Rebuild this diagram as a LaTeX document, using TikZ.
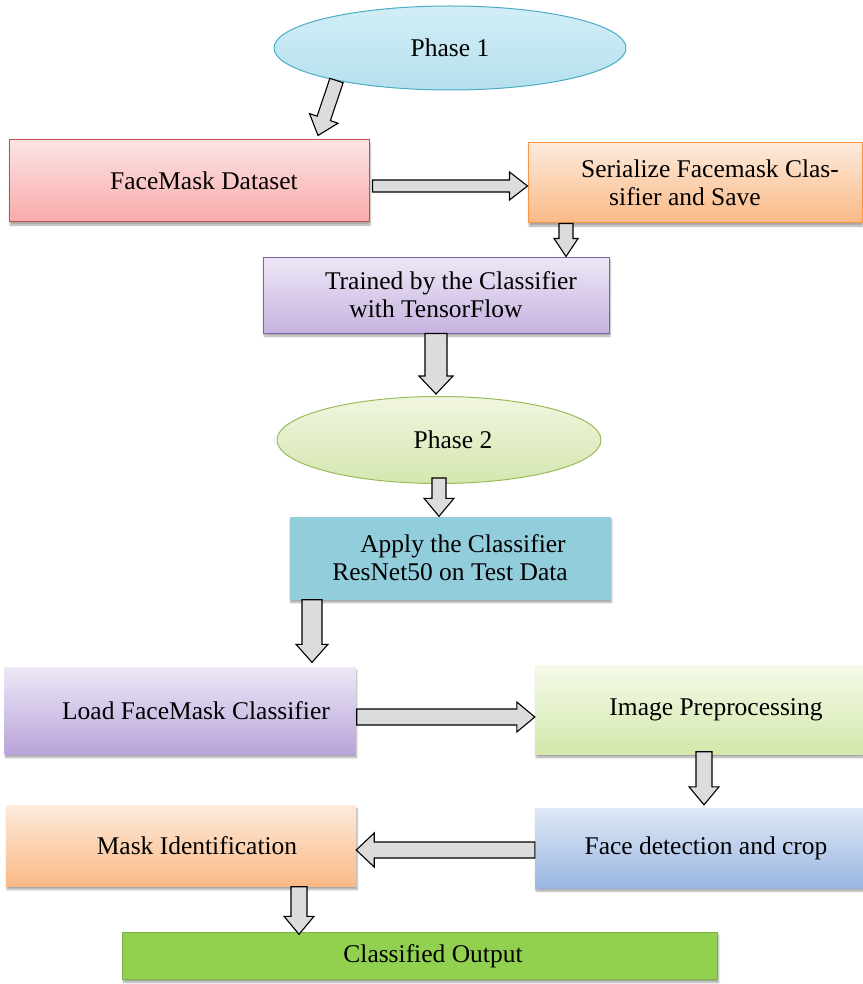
\documentclass[tikz,border=0pt]{standalone}
\usepackage{fontspec}
\setmainfont{Liberation Serif}
\usetikzlibrary{positioning, calc, shapes.geometric, shadows.blur}

\definecolor{ellblue}{HTML}{4BACC6}
\definecolor{ellbluetop}{HTML}{D3EEF7}
\definecolor{ellbluebot}{HTML}{B5E0EE}
\definecolor{ellgreen}{HTML}{9BBB59}
\definecolor{ellgreentop}{HTML}{F0F6E0}
\definecolor{ellgreenbot}{HTML}{D5E6B0}
\definecolor{redline}{HTML}{C0504D}
\definecolor{pinktop}{HTML}{FDE4E4}
\definecolor{pinkbot}{HTML}{F8AAAA}
\definecolor{orangeline}{HTML}{F79646}
\definecolor{peachtop}{HTML}{FDEADB}
\definecolor{peachbot}{HTML}{FAB985}
\definecolor{purpleline}{HTML}{8064A2}
\definecolor{lilactop}{HTML}{EEE7F6}
\definecolor{lilacbot}{HTML}{C6B3E0}
\definecolor{lilacdeep}{HTML}{B8A4DA}
\definecolor{limetop}{HTML}{F4F9E8}
\definecolor{limebot}{HTML}{D3E8AC}
\definecolor{skytop}{HTML}{DFE8F5}
\definecolor{skybot}{HTML}{9AB6E2}
\definecolor{tealfill}{HTML}{92CDDC}
\definecolor{limefill}{HTML}{92D050}
\definecolor{arrowgray}{HTML}{DCDCDC}

\tikzset{
  box/.style={rectangle, align=center, font=\fontsize{25.5}{28}\selectfont,
    blur shadow={shadow xshift=1pt, shadow yshift=-3pt, shadow opacity=35, shadow blur steps=6}},
  phase/.style={ellipse, align=center, font=\fontsize{25.5}{28}\selectfont},
  blockarrow/.style 2 args={draw=black, line width=1.1pt, fill=arrowgray,
    to path={
      ($(\tikztostart)!#1!90:(\tikztotarget)$)
      -- ($($(\tikztotarget)!18pt!(\tikztostart)$)!#1!90:(\tikztotarget)$)
      -- ($($(\tikztotarget)!18pt!(\tikztostart)$)!#2!90:(\tikztotarget)$)
      -- (\tikztotarget)
      -- ($($(\tikztotarget)!18pt!(\tikztostart)$)!#2!-90:(\tikztotarget)$)
      -- ($($(\tikztotarget)!18pt!(\tikztostart)$)!#1!-90:(\tikztotarget)$)
      -- ($(\tikztostart)!#1!-90:(\tikztotarget)$)
      -- cycle}}
}

\begin{document}
\begin{tikzpicture}[x=1pt, y=-1pt]
  \useasboundingbox (0,0) rectangle (862,984);

  % phase one
  \node[phase, draw=ellblue, line width=1pt, top color=ellbluetop, bottom color=ellbluebot,
    minimum width=352pt, minimum height=84pt] (ph1) at (450,48) {Phase 1};
  \node[box, draw=redline, line width=1pt, top color=pinktop, bottom color=pinkbot,
    minimum width=360pt, minimum height=82pt] (ds) at (189,181) {\hspace*{30pt}FaceMask Dataset};
  \node[box, draw=orangeline, line width=1pt, top color=peachtop, bottom color=peachbot,
    minimum width=334pt, minimum height=80pt] (ser) at (695,183)
    {\hspace*{30pt}Serialize Facemask Clas-\\\hspace*{-20pt}sifier and Save};
  \node[box, draw=purpleline, line width=1pt, top color=lilactop, bottom color=lilacbot,
    minimum width=346pt, minimum height=76pt] (tr) at (436,295)
    {\hspace*{30pt}Trained by the Classifier\\with TensorFlow};

  % phase two
  \node[phase, draw=ellgreen, line width=1pt, top color=ellgreentop, bottom color=ellgreenbot,
    minimum width=324pt, minimum height=87pt] (ph2) at (439,440) {\hspace*{28pt}Phase 2};
  \node[box, fill=tealfill, minimum width=321pt, minimum height=83pt] (ap) at (450,558)
    {\hspace*{26pt}Apply the Classifier\\ResNet50 on Test Data};
  \node[box, top color=lilactop, bottom color=lilacdeep,
    minimum width=351pt, minimum height=87pt] (ld) at (180,711) {\hspace*{32pt}Load FaceMask Classifier};
  \node[box, top color=limetop, bottom color=limebot,
    minimum width=328pt, minimum height=89pt] (ip) at (699,710) {\hspace*{34pt}Image Preprocessing};
  \node[box, top color=skytop, bottom color=skybot,
    minimum width=328pt, minimum height=80pt] (fd) at (699,848) {\hspace*{14pt}Face detection and crop};
  \node[box, top color=peachtop, bottom color=peachbot,
    minimum width=350pt, minimum height=81pt] (mi) at (181,846) {\hspace*{32pt}Mask Identification};
  \node[box, fill=limefill, draw=limefill!85!black, minimum width=595pt, minimum height=47pt] (co)
    at (420,956) {\hspace*{26pt}Classified Output};

  % arrows
  \draw[blockarrow={7pt}{15pt}] (ph1.196) to ([xshift=129pt,yshift=4pt]ds.north);
  \draw[blockarrow={6pt}{14pt}] ([xshift=3pt,yshift=-5pt]ds.east) to ([yshift=-3pt]ser.west);
  \draw[blockarrow={7pt}{12pt}] ([xshift=-129pt]ser.south) to ([xshift=-129pt]ser.south |- tr.north);
  \draw[blockarrow={11pt}{17pt}] (tr.south) to ([yshift=2pt]tr.south |- ph2.north);
  \draw[blockarrow={7pt}{15pt}] ([yshift=6pt]ph2.south) to (ph2.south |- ap.north);
  \draw[blockarrow={10pt}{16pt}] ([xshift=-138pt]ap.south) to ([xshift=-138pt,yshift=5pt]ap.south |- ld.north);
  \draw[blockarrow={8pt}{15pt}] ([xshift=1pt,yshift=-6pt]ld.east) to ([yshift=-7pt]ip.west);
  \draw[blockarrow={8pt}{15pt}] ([xshift=5pt,yshift=3pt]ip.south) to ([xshift=5pt,yshift=3pt]ip.south |- fd.north);
  \draw[blockarrow={8pt}{17pt}] ([yshift=-2pt]fd.west) to ([yshift=-4pt]mi.east);
  \draw[blockarrow={8pt}{15pt}] ([xshift=118pt]mi.south) to ([xshift=118pt,yshift=-2pt]mi.south |- co.north);
\end{tikzpicture}
\end{document}
